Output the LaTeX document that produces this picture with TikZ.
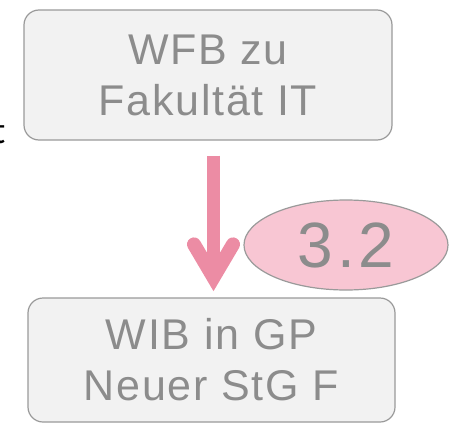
\documentclass[tikz,border=0pt]{standalone}
\usepackage{fontspec}
\setmainfont{Liberation Sans}
\newfontfamily\calfont{Carlito}
\usetikzlibrary{calc,shapes.geometric}
\definecolor{boxfill}{HTML}{F2F2F2}
\definecolor{boxline}{HTML}{9A9A9A}
\definecolor{boxtext}{HTML}{8C8C8C}
\definecolor{arrowpink}{HTML}{EC8CA4}
\definecolor{ellfill}{HTML}{F8C6D3}
\tikzset{
  stepbox/.style={draw=boxline, line width=1.2pt, fill=boxfill, rounded corners=15pt,
    text=boxtext, align=center, inner sep=0pt},
  bigtext/.style={font=\addfontfeature{LetterSpace=4}\fontsize{43}{51}\selectfont},
  tag/.style={ellipse, draw=boxline, line width=1.2pt, fill=ellfill, text=boxtext,
    inner sep=0pt, minimum width=204pt, minimum height=90pt,
    font=\addfontfeature{LetterSpace=6}\fontsize{64}{64}\selectfont},
  shaft/.style={draw=arrowpink, line width=13pt},
  chevron/.style={draw=arrowpink, line width=14pt, line cap=round, line join=miter}
}
\begin{document}
\begin{tikzpicture}[x=1pt,y=-1pt]
\useasboundingbox (0,0) rectangle (450,423);
\node[anchor=base east, font=\calfont\fontsize{38}{38}\selectfont, text=black, inner sep=0pt] (lt) at (5.5,143) {t};
\node[stepbox, bigtext, minimum width=368pt, minimum height=130pt] (top) at (208,75) {WFB zu\\Fakultät IT};
\node[stepbox, bigtext, minimum width=367pt, minimum height=124pt] (bot) at (211.5,360) {WIB in GP\\Neuer StG F};
\node[tag] (num) at (346,245) {3.2};
\coordinate (tip) at ([xshift=2pt,yshift=7pt]bot.north);
\coordinate (apex) at ($(tip)+(0,-13)$);
\draw[shaft] ([xshift=5.5pt,yshift=-15pt]top.south) -- (apex);
\draw[chevron] ($(tip)+(-19.5,-46)$) -- (apex) -- ($(tip)+(19.5,-46)$);
\end{tikzpicture}
\end{document}
